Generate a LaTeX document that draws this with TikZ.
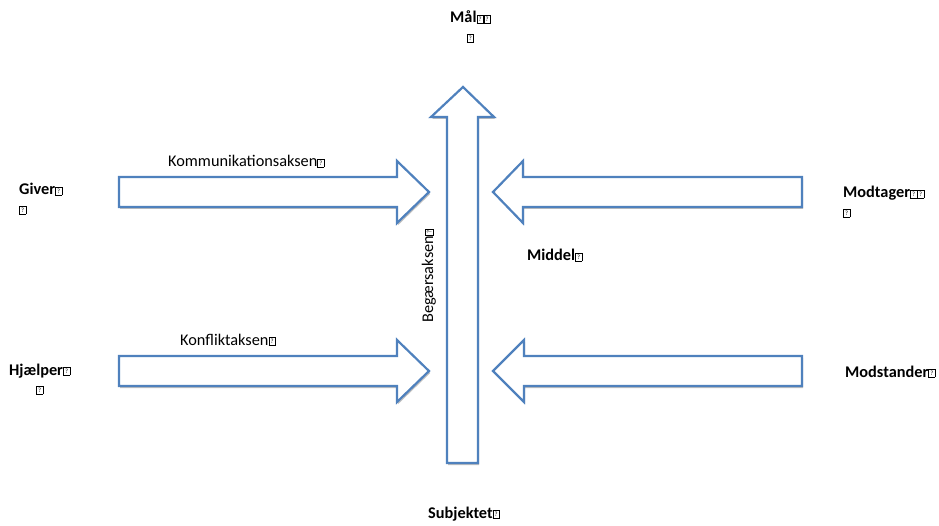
\documentclass[tikz,border=0pt]{standalone}
\usepackage{fontspec}
\setmainfont{Carlito}
\usetikzlibrary{shadows}

\definecolor{pilblaa}{RGB}{79,129,189}
% lille kasse med spørgsmålstegn (manglende tegn)
\newcommand{\ukendt}{\raisebox{1.6pt}{\fboxsep=1.5pt\fboxrule=0.5pt\fbox{\fontsize{6.5}{6.5}\selectfont\mdseries ?}}}

\begin{document}
\begin{tikzpicture}[x=1pt, y=-1pt,
    every node/.style={inner sep=0pt, font=\fontsize{16.3}{19}\selectfont},
    pil/.style={draw=pilblaa, line width=2.2pt, fill=white, line join=miter,
        drop shadow={shadow xshift=1.2pt, shadow yshift=-2pt, opacity=0.25, fill=black}},
    rolle/.style={font=\fontsize{16.3}{19}\selectfont\bfseries},
    akse/.style={font=\fontsize{16.3}{19}\selectfont}
]
\useasboundingbox (0,0) rectangle (939,526);

% -------- Begærsaksen (lodret pil) --------
\draw[pil] (447,463) -- (447,117) -- (431,117) -- (463,87) -- (494,117) -- (478,117) -- (478,463) -- cycle;

% -------- Kommunikationsaksen --------
\draw[pil] (119,177) -- (397,177) -- (397,161) -- (429,192) -- (397,223) -- (397,207) -- (119,207) -- cycle;
\draw[pil] (802,177) -- (523,177) -- (523,161) -- (493,192) -- (523,223) -- (523,207) -- (802,207) -- cycle;

% -------- Konfliktaksen --------
\draw[pil] (119,356) -- (397,356) -- (397,340) -- (429,371) -- (397,402) -- (397,386) -- (119,386) -- cycle;
\draw[pil] (802,356) -- (524,356) -- (524,340) -- (493,371) -- (524,402) -- (524,386) -- (802,386) -- cycle;

% Aktanter (base = sidste linjes grundlinje)
\node[rolle, anchor=base west, align=center] (maal) at (450,42) {Mål\ukendt\ukendt\\\ukendt};
\node[rolle, anchor=base west, align=left] (giver) at (19,214) {Giver\ukendt\\\ukendt};
\node[rolle, anchor=base west, align=left] (modtager) at (843,217) {Modtager\ukendt\ukendt\\\ukendt};
\node[rolle, anchor=base west] (middel) at (527,261) {Middel\ukendt};
\node[rolle, anchor=base west, align=center] (hjaelper) at (9,394) {Hjælper\ukendt\\\ukendt};
\node[rolle, anchor=base west] (modstander) at (845,377) {Modstander\ukendt};
\node[rolle, anchor=base west] (subjekt) at (428,518) {Subjektet\ukendt};

% Akser
\node[akse, anchor=base west] (kommunikation) at (168,167) {Kommunikationsaksen\ukendt};
\node[akse, anchor=base west] (konflikt) at (180,345) {Konfliktaksen\ukendt};
\node[akse, anchor=base west, rotate=90] (begaer) at (433,323) {Begærsaksen\ukendt};
\end{tikzpicture}
\end{document}
